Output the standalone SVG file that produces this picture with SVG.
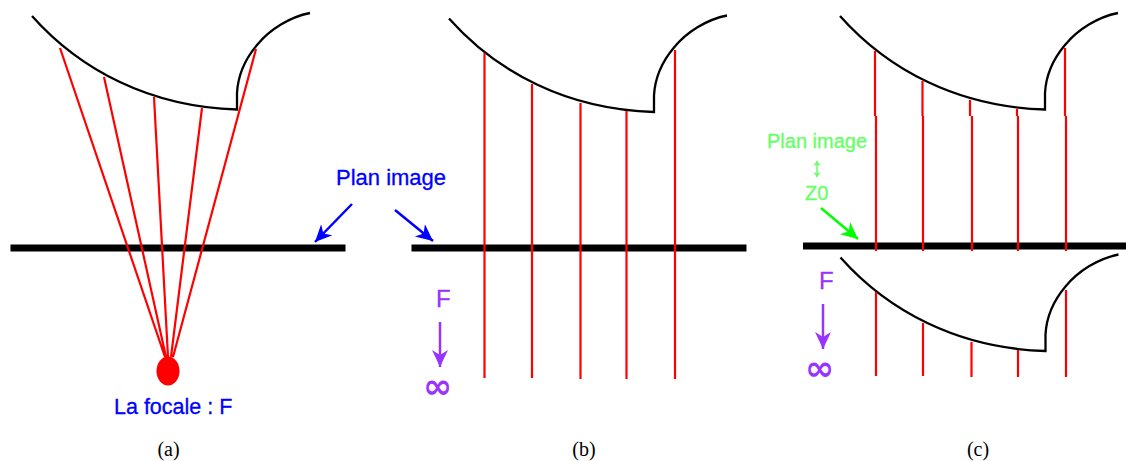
<svg xmlns="http://www.w3.org/2000/svg" xmlns:xlink="http://www.w3.org/1999/xlink" width="1126" height="461" viewBox="0 0 1126 461">
<style>
.m{fill:none;stroke:#000;stroke-width:2.300}
.bar{fill:#000}
.r{stroke:#f00;stroke-width:2.200;fill:none}
.t{font-family:"Liberation Sans",Arial,sans-serif;stroke-width:.3}
.cap{font-family:"Liberation Serif","Times New Roman",serif;font-size:20px;fill:#000;text-anchor:middle}
.blue{fill:#0000ff;stroke:#0000ff;font-size:22px}
.green{fill:#66ff66;stroke:#66ff66;font-size:20px}
.pur{fill:#9933ff;stroke:#9933ff;font-size:24px}
.inf{font-family:"DejaVu Sans",sans-serif;font-weight:bold;font-size:35px;fill:#9933ff}
.ab{stroke:#0000ff;stroke-width:2.500;fill:none}
.ap{stroke:#9933ff;stroke-width:2.500;fill:none}
.ag{stroke:#00ff00;stroke-width:2.500;fill:none}
</style>
<defs>
<path id="mirror" class="m" d="M32 16C80 70 150 107 237 109.500L237 93C238 74 246 58 257 45C270 29 290 17 310 13"/>
<marker id="hb" markerUnits="userSpaceOnUse" markerWidth="20" markerHeight="20" refX="17" refY="8" orient="auto"><path d="M0 0L17 8L0 16L5 8Z" fill="#0000ff"/></marker>
<marker id="hp" markerUnits="userSpaceOnUse" markerWidth="20" markerHeight="20" refX="17" refY="8" orient="auto"><path d="M0 0L17 8L0 16L5 8Z" fill="#9933ff"/></marker>
<marker id="hg" markerUnits="userSpaceOnUse" markerWidth="20" markerHeight="20" refX="17" refY="8" orient="auto"><path d="M0 0L17 8L0 16L5 8Z" fill="#00ff00"/></marker>
<marker id="hg2" markerUnits="userSpaceOnUse" markerWidth="10" markerHeight="10" refX="5" refY="4" orient="auto"><path d="M0 0L5 4L0 8L1.500 4Z" fill="#66ff66"/></marker>
<marker id="hg2s" markerUnits="userSpaceOnUse" markerWidth="10" markerHeight="10" refX="5" refY="4" orient="auto-start-reverse"><path d="M0 0L5 4L0 8L1.500 4Z" fill="#66ff66"/></marker>
</defs>

<g id="panel-a">
<rect class="bar" x="10.500" y="244.500" width="335" height="7"/>
<use xlink:href="#mirror" href="#mirror"/>
<path class="r" d="M60 48L165 357M104 77L166 357M154 97L168 357M202 108L171 357M256 49L173 357"/>
<ellipse cx="168" cy="371" rx="11.500" ry="14.500" fill="#f00"/>
<text class="t blue" x="114" y="414" style="font-size:21.500px">La focale : F</text>
<text class="cap" x="168.500" y="456">(a)</text>
</g>

<g id="panel-b">
<rect class="bar" x="411.500" y="244.500" width="335" height="7"/>
<use xlink:href="#mirror" href="#mirror" transform="translate(417 2.500)"/>
<path class="r" d="M484.500 53V378M532 84V378M580.500 103V379M626.500 111V379M675 50V379"/>
<text class="t pur" x="436" y="307">F</text>
<text class="inf" x="423" y="398">∞</text>
<text class="cap" x="584" y="456">(b)</text>
</g>

<g id="panel-c">
<rect class="bar" x="803" y="242.500" width="323" height="7"/>
<use xlink:href="#mirror" href="#mirror" transform="translate(808 0)"/>
<use xlink:href="#mirror" href="#mirror" transform="translate(808.500 241.500)"/>
<path class="r" d="M875 51V116M922.500 81V116M970 100V116M1017 109V116M1065 48V116M876 116V251M923 116V251M972 116V251M1018 116V251M1066 116V251M876 292V376M923 323V376M971.500 342V377M1018 350V377M1066 290V377"/>
<text class="t green" x="767" y="148">Plan image</text>
<text class="t green" x="805" y="200">Z0</text>
<text class="t pur" x="819" y="289">F</text>
<text class="inf" x="805" y="380">∞</text>
<text class="cap" x="978" y="456">(c)</text>
</g>

<text id="label-plan" class="t blue" x="336" y="185">Plan image</text>

<g id="connectors">
<line class="ab" x1="352" y1="204" x2="315" y2="242" marker-end="url(#hb)"/>
<line class="ab" x1="395" y1="210" x2="433" y2="241" marker-end="url(#hb)"/>
<line class="ap" x1="440" y1="322" x2="440" y2="367" marker-end="url(#hp)"/>
<line class="ap" x1="823" y1="304" x2="823" y2="349" marker-end="url(#hp)"/>
<line class="ag" x1="821" y1="208" x2="858" y2="239" marker-end="url(#hg)"/>
<line stroke="#66ff66" stroke-width="1.500" x1="817" y1="161" x2="817" y2="177" marker-start="url(#hg2s)" marker-end="url(#hg2)"/>
</g>
</svg>
